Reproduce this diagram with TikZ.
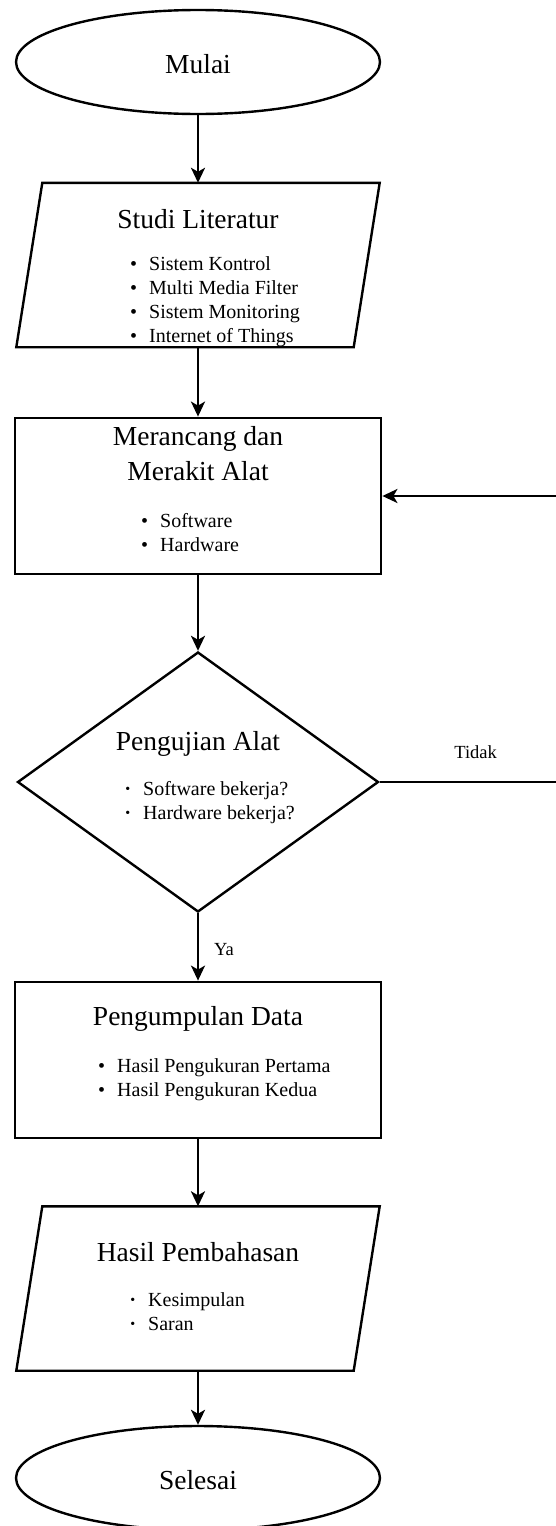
\documentclass[tikz,border=0pt]{standalone}
\usepackage{fontspec}
\setmainfont{Liberation Serif}
\usepackage{graphicx}
\usetikzlibrary{shapes.geometric,arrows.meta}

\newcommand{\ttlfont}{\fontsize{27.5}{35}\selectfont}
\newcommand{\lstfont}{\fontsize{20}{24}\selectfont}
\newcommand{\itm}{\llap{\textbullet\hspace{12pt}}}
\newcommand{\itms}{\llap{\raisebox{1.2pt}{\scalebox{0.7}{\textbullet}}\hspace{13pt}}}

\begin{document}
\begin{tikzpicture}[x=1pt, y=-1pt,
    every node/.style={inner sep=0pt},
    term/.style={draw, ellipse, line width=2.4pt, minimum width=364, minimum height=104},
    proc/.style={draw, rectangle, line width=2.8pt, minimum width=366, minimum height=156},
    iobody/.style={rectangle, minimum width=337, minimum height=164},
    decide/.style={draw, diamond, line width=2.4pt, minimum width=361, minimum height=260},
    slant/.style={draw, line width=2.4pt},
    ttl/.style={font=\ttlfont, anchor=base},
    lst/.style={font=\lstfont, anchor=base west},
    lbl/.style={font=\fontsize{18.5}{22}\selectfont},
    flow/.style={-{Stealth[length=15pt, width=14pt, inset=4pt]}, line width=2.4pt}]
    \useasboundingbox (0,0) rectangle (556,1526);
    \clip (0,0) rectangle (556,1526);

    % flowchart shapes, top to bottom
    \node[term] (mulai) at (198,62) {};
    \node[iobody] (studi) at (198,265) {};
    \node[proc] (rakit) at (198,496) {};
    \node[decide] (uji) at (198,782) {};
    \node[proc] (data) at (198,1060) {};
    \node[iobody] (hasil) at (198,1288.5) {};
    \node[term] (selesai) at (198,1478) {};

    % slanted input/output boxes
    \foreach \n in {studi,hasil}
        \draw[slant] ([xshift=13]\n.north west) -- ([xshift=13]\n.north east)
            -- ([xshift=-13]\n.south east) -- ([xshift=-13]\n.south west) -- cycle;

    % texts
    \node[ttl] (mulaiT) at (198,73) {Mulai};
    \node[ttl] (studiT) at (198,228) {Studi Literatur};
    \node[lst] (studiL) at (149,270) {\begin{tabular}[t]{@{}l@{}}
        \itm Sistem Kontrol\\ \itm Multi Media Filter\\
        \itm Sistem Monitoring\\ \itm Internet of Things\end{tabular}};
    \node[ttl] (rakitT) at (198,445) {\begin{tabular}[t]{@{}c@{}}Merancang dan\\ Merakit Alat\end{tabular}};
    \node[lst] (rakitL) at (160,527) {\begin{tabular}[t]{@{}l@{}}\itm Software\\ \itm Hardware\end{tabular}};
    \node[ttl] (ujiT) at (198,750) {Pengujian Alat};
    \node[lst] (ujiL) at (143,795) {\begin{tabular}[t]{@{}l@{}}\itms Software bekerja?\\ \itms Hardware bekerja?\end{tabular}};
    \node[ttl] (dataT) at (198,1025) {Pengumpulan Data};
    \node[lst] (dataL) at (117,1072) {\begin{tabular}[t]{@{}l@{}}\itm Hasil Pengukuran Pertama\\ \itm Hasil Pengukuran Kedua\end{tabular}};
    \node[ttl] (hasilT) at (198,1261) {Hasil Pembahasan};
    \node[lst] (hasilL) at (148,1306) {\begin{tabular}[t]{@{}l@{}}\itms Kesimpulan\\ \itms Saran\end{tabular}};
    \node[ttl] (selesaiT) at (198,1489) {Selesai};

    % arrows
    \draw[flow] (mulai.south) -- (studi.north);
    \draw[flow] (studi.south) -- (rakit.north);
    \draw[flow] (rakit.south) -- (uji.north);
    \draw[flow] (uji.south) -- node[lbl, anchor=west, xshift=15, yshift=-3] (ya) {Ya} (data.north);
    \draw[flow] (data.south) -- (hasil.north);
    \draw[flow] (hasil.south) -- (selesai.north);
    \draw[flow] (uji.east) -- node[lbl, anchor=base, pos=0.527, yshift=24] (tidak) {Tidak} ++(182,0) |- (rakit.east);
\end{tikzpicture}
\end{document}
